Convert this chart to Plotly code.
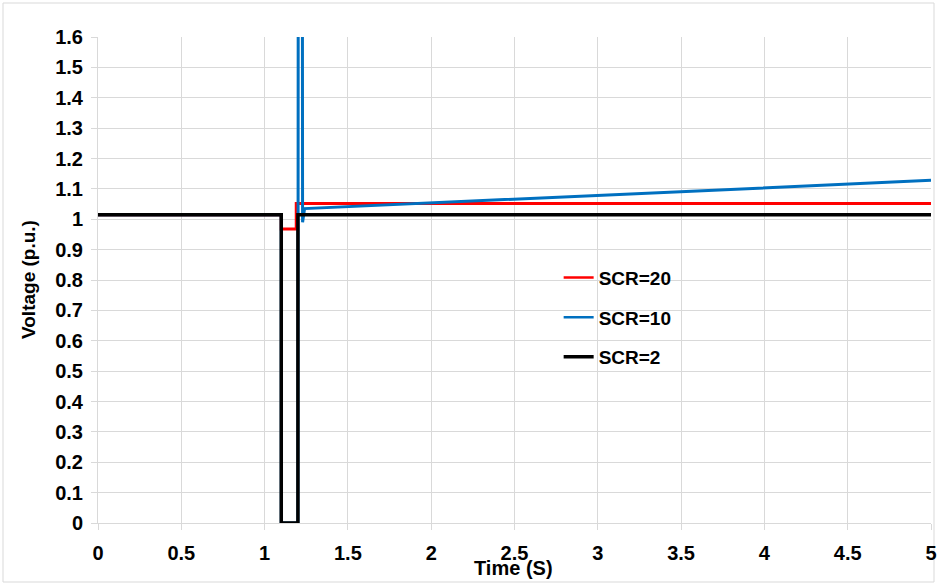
import plotly.graph_objects as go

# Data
t_scr20 = [0, 1.1, 1.1, 1.19, 1.19, 5]
v_scr20 = [1.015, 1.015, 0.968, 0.968, 1.052, 1.052]

t_scr10 = [0, 1.1, 1.1, 1.2, 1.203, 1.225, 1.228, 1.24, 5]
v_scr10 = [1.015, 1.015, 0, 0, 3.0, 3.0, 0.99, 1.035, 1.128]

t_scr2 = [0, 1.1, 1.1, 1.2, 1.2, 5]
v_scr2 = [1.015, 1.015, 0, 0, 1.015, 1.015]

x_ticks = [0, 0.5, 1, 1.5, 2, 2.5, 3, 3.5, 4, 4.5, 5]
y_ticks = [round(i * 0.1, 1) for i in range(17)]

font_family = "Liberation Sans, Arial, sans-serif"
grid = "#d9d9d9"

series = [
    ("SCR=20", t_scr20, v_scr20, "#ff0000", 3, 2.5),
    ("SCR=10", t_scr10, v_scr10, "#0070c0", 3, 2.5),
    ("SCR=2", t_scr2, v_scr2, "#000000", 3.5, 3.5),
]

fig = go.Figure()
for i, (name, t, v, col, w, lw) in enumerate(series):
    fig.add_trace(go.Scatter(x=t, y=v, mode="lines", name=name, showlegend=False,
                             line=dict(color=col, width=w)))
for i, (name, t, v, col, w, lw) in enumerate(series):
    fig.add_trace(go.Scatter(x=[None], y=[None], mode="lines", name="<b>%s</b>" % name,
                             legendgroup="g%d" % i, line=dict(color=col, width=lw)))

fig.update_layout(
    width=937, height=585,
    margin=dict(l=98, r=6, t=37, b=62, autoexpand=False),
    paper_bgcolor="white", plot_bgcolor="white",
    font=dict(family=font_family, size=19, color="#000000"),
    legend=dict(x=0.553, y=0.544, xanchor="left", yanchor="top",
                font=dict(size=19, family=font_family, color="#000"),
                bgcolor="rgba(0,0,0,0)", tracegroupgap=12),
    xaxis=dict(range=[0, 5], tickvals=x_ticks,
               ticktext=["<b>%g</b>" % v for v in x_ticks],
               showgrid=True, gridcolor=grid, gridwidth=1,
               zeroline=False, showline=True, linecolor=grid,
               ticks="outside", ticklen=6, tickcolor=grid,
               tickfont=dict(size=20, family=font_family),
               ticklabelstandoff=6,
               automargin=False),
    yaxis=dict(range=[0, 1.6], tickvals=y_ticks,
               ticktext=["<b>%g</b>" % v for v in y_ticks],
               showgrid=True, gridcolor=grid, gridwidth=1,
               zeroline=False, showline=True, linecolor=grid,
               ticks="outside", ticklen=6, tickcolor=grid,
               tickfont=dict(size=20, family=font_family),
               ticklabelstandoff=4,
               automargin=False),
)

# axis titles
fig.add_annotation(text="<b>Time (S)</b>", xref="paper", yref="paper",
                   x=(513 - 98) / 833, y=(523 - 568) / 486,
                   xanchor="center", yanchor="middle", showarrow=False,
                   font=dict(size=20, family=font_family, color="#000"))
fig.add_annotation(text="<b>Voltage (p.u.)</b>", xref="paper", yref="paper",
                   x=(28 - 98) / 833, y=(523 - 280) / 486, textangle=-90,
                   xanchor="center", yanchor="middle", showarrow=False,
                   font=dict(size=19, family=font_family, color="#000"))

# outer border
fig.add_shape(type="rect", xref="paper", yref="paper",
              x0=(3 - 98) / 833, x1=(934 - 98) / 833,
              y0=(523 - 582) / 486, y1=(523 - 3) / 486,
              line=dict(color=grid, width=1), layer="below")

fig.write_html("out.html", config={"displayModeBar": False},
               post_script="document.body.style.margin='0';")
